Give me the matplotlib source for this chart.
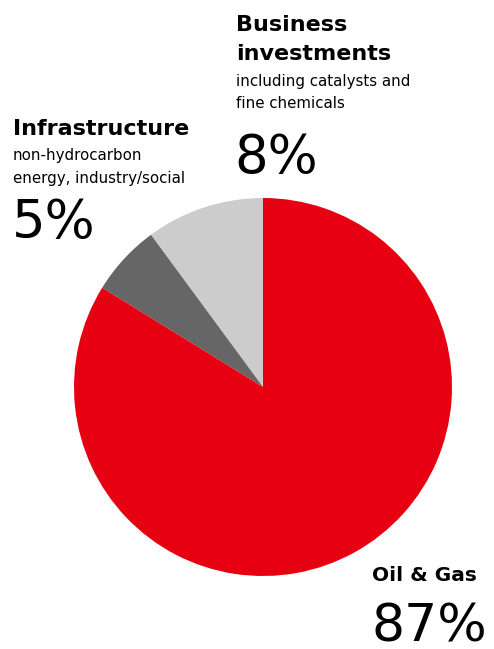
import matplotlib
matplotlib.use("Agg")
import matplotlib.pyplot as plt

W, H = 494, 649
DPI = 100

# Data
categories = ["Business investments", "Infrastructure", "Oil & Gas"]
sublabels = ["including catalysts and\nfine chemicals",
             "non-hydrocarbon\nenergy, industry/social", ""]
pct_labels = ["8%", "5%", "87%"]
slice_values = [10.1, 6.1, 83.8]   # slice sizes as drawn
colors = ["#CCCCCC", "#666666", "#E60012"]

fig = plt.figure(figsize=(W / DPI, H / DPI), dpi=DPI)
cx, cy, r = 263, 387, 189
ax = fig.add_axes([(cx - r) / W, (H - cy - r) / H, 2 * r / W, 2 * r / H])
ax.pie(slice_values, colors=colors, startangle=90, counterclock=True,
       radius=1, wedgeprops=dict(linewidth=0))
ax.set_xlim(-1, 1)
ax.set_ylim(-1, 1)
ax.set_aspect("equal")
ax.axis("off")

FONT = "DejaVu Sans"

def txt(x, y, s, size, weight="normal"):
    fig.text(x / W, 1 - y / H, s, fontsize=size, fontweight=weight,
             family=FONT, va="baseline", ha="left", color="black")

# Business investments
txt(236, 31, categories[0].split()[0], 16, "bold")
txt(236, 60, categories[0].split()[1], 16, "bold")
for i, line in enumerate(sublabels[0].split("\n")):
    txt(236, 86 + 22 * i, line, 10.8)
txt(234, 173, pct_labels[0], 38)

# Infrastructure
txt(13, 135, categories[1], 16, "bold")
for i, line in enumerate(sublabels[1].split("\n")):
    txt(13, 160 + 23 * i, line, 10.8)
txt(12, 238, pct_labels[1], 38)

# Oil & Gas
txt(372, 581, categories[2], 14.5, "bold")
txt(371, 642, pct_labels[2], 37.5)

fig.savefig("out.png", dpi=DPI)
